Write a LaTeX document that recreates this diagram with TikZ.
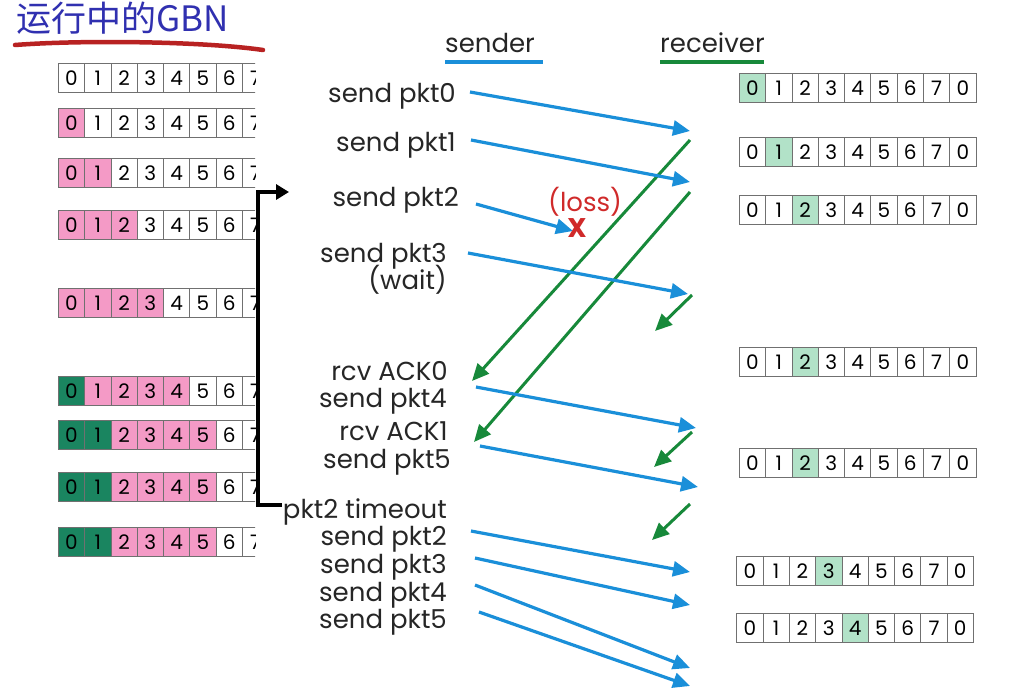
\documentclass[tikz,border=0pt]{standalone}
\usepackage{fontspec}
\setmainfont{Poppins}
\newfontfamily\cjk{Noto Sans CJK SC}
\usetikzlibrary{arrows.meta}
\definecolor{pinkc}{HTML}{F49AC6}
\definecolor{dgreen}{HTML}{1A8560}
\definecolor{lgreen}{HTML}{B2E2C8}
\definecolor{bluec}{HTML}{1A8FD9}
\definecolor{greenc}{HTML}{17893A}
\definecolor{titleblue}{HTML}{3030B0}
\definecolor{redc}{HTML}{D02A2A}
\definecolor{ulred}{HTML}{B82222}
\definecolor{cellline}{HTML}{707070}
\begin{document}
\begin{tikzpicture}[x=1pt,y=-1pt,
  cell/.style={draw=cellline,line width=0.8pt,minimum width=26.3pt,minimum height=29pt,inner sep=0pt,font=\fontsize{20}{20}\selectfont},
  lbl/.style={anchor=base east,inner sep=0pt,font=\fontsize{26}{26}\selectfont,text=black!85},
  hdr/.style={anchor=base west,inner sep=0pt,font=\fontsize{26}{26}\selectfont,text=black!85},
  pkt/.style={draw=bluec,line width=3.2pt,-{Triangle[length=17pt,width=15pt]}},
  ack/.style={draw=greenc,line width=3pt,-{Triangle[length=17pt,width=15pt]}},
  brk/.style={draw=black,line width=3.5pt,line join=miter,-{Triangle[length=13pt,width=15pt]}}]
\useasboundingbox (0,0) rectangle (1015,694);
\fill[white] (0,0) rectangle (1015,694);

% title
\node[anchor=base west,inner sep=0pt,font=\cjk\fontsize{35}{35}\selectfont,text=titleblue] (title) at (16,31) {运行中的GBN};
\draw[ulred,line width=4.5pt,line cap=round] (15,45) .. controls (80,40) and (200,41) .. (263,50);

% headers
\node[hdr] (sender) at (445,52) {sender};
\node[hdr] (receiver) at (660,52) {receiver};
\draw[bluec,line width=4pt] (sender.south west |- 0,62) -- (543,62);
\draw[greenc,line width=4pt] (receiver.south west |- 0,62) -- (764,62);

% sender windows
\begin{scope}
\clip (50,0) rectangle (255,694);
\foreach \y/\g/\p [count=\r] in {78/0/0,123/0/1,173/0/2,225/0/3,303/0/4,391/1/5,435/2/6,487/2/6,542/2/6}{
  \foreach \i in {0,...,7}{
    \def\fc{white}\ifnum\i<\p\def\fc{pinkc}\fi\ifnum\i<\g\def\fc{dgreen}\fi
    \node[cell,fill=\fc] (L\r-\i) at ({58.3+13.15+26.3*\i},\y) {\i};
  }
}
\end{scope}

% receiver windows
\foreach \x/\y/\h [count=\r] in {739.3/88/0,739.3/152/1,739.3/210/2,739.3/362/2,739.3/463/2,736.7/571/3,736.7/628/4}{
  \foreach \i in {0,...,8}{
    \pgfmathtruncatemacro\lab{mod(\i,8)}
    \def\fc{white}\ifnum\i=\h\def\fc{lgreen}\fi
    \node[cell,fill=\fc] (R\r-\i) at ({\x+13.15+26.3*\i},\y) {\lab};
  }
}

% sender labels
\node[lbl] (l0) at (456,102) {send pkt0};
\node[lbl] (l1) at (456,151) {send pkt1};
\node[lbl] (l2) at (459,206) {send pkt2};
\node[lbl] (l3) at (447,262) {send pkt3};
\node[lbl] (lw) at (447,289) {(wait)};
\node[lbl] (la0) at (448,380) {rcv ACK0};
\node[lbl] (l4) at (447,407) {send pkt4};
\node[lbl] (la1) at (448,440) {rcv ACK1};
\node[lbl] (l5) at (451,468) {send pkt5};
\node[lbl] (lto) at (447,518) {pkt2 timeout};
\node[lbl] (m2) at (447,545) {send pkt2};
\node[lbl] (m3) at (447,573) {send pkt3};
\node[lbl] (m4) at (447,601) {send pkt4};
\node[lbl] (m5) at (447,628) {send pkt5};

% loss
\node[anchor=base west,inner sep=0pt,font=\fontsize{26}{26}\selectfont,text=redc] (loss) at (548,211) {(loss)};

% endpoints
\coordinate (s0) at (470,92);  \coordinate (e0) at (690,131);
\coordinate (s1) at (471,140); \coordinate (e1) at (690,182);
\coordinate (s2) at (476,204); \coordinate (e2) at (573,231);
\coordinate (s3) at (468,253); \coordinate (e3) at (688,294);
\coordinate (s4) at (476,387); \coordinate (e4) at (696,428);
\coordinate (s5) at (480,446); \coordinate (e5) at (698,487);
\coordinate (t2) at (471,531); \coordinate (f2) at (690,572);
\coordinate (t3) at (475,558); \coordinate (f3) at (690,605);
\coordinate (t4) at (475,585); \coordinate (f4) at (690,668);
\coordinate (t5) at (479,612); \coordinate (f5) at (690,686);
\coordinate (a0s) at (690,140); \coordinate (a0e) at (472,381);
\coordinate (a1s) at (690,192); \coordinate (a1e) at (474,442);
\coordinate (a2s) at (692,295); \coordinate (a2e) at (655,331);
\coordinate (a3s) at (692,432); \coordinate (a3e) at (654,467);
\coordinate (a4s) at (690,504); \coordinate (a4e) at (652,540);

\draw[ack] (a0s) -- (a0e);
\draw[ack] (a1s) -- (a1e);
\draw[ack] (a2s) -- (a2e);
\draw[ack] (a3s) -- (a3e);
\draw[ack] (a4s) -- (a4e);

\draw[pkt] (s0) -- (e0);
\draw[pkt] (s1) -- (e1);
\draw[pkt] (s2) -- (e2);
\draw[pkt] (s3) -- (e3);
\draw[pkt] (s4) -- (e4);
\draw[pkt] (s5) -- (e5);
\draw[pkt] (t2) -- (f2);
\draw[pkt] (t3) -- (f3);
\draw[pkt] (t4) -- (f4);
\draw[pkt] (t5) -- (f5);

\node[inner sep=0pt,font=\bfseries\fontsize{27}{27}\selectfont,text=redc] (x) at (577,228) {X};

% timeout bracket
\coordinate (bs) at (282,505);
\coordinate (bb) at (258,505);
\coordinate (bt) at (258,192);
\coordinate (ba) at (289,192);
\draw[brk] (bs) -- (bb) -- (bt) -- (ba);
\end{tikzpicture}
\end{document}
